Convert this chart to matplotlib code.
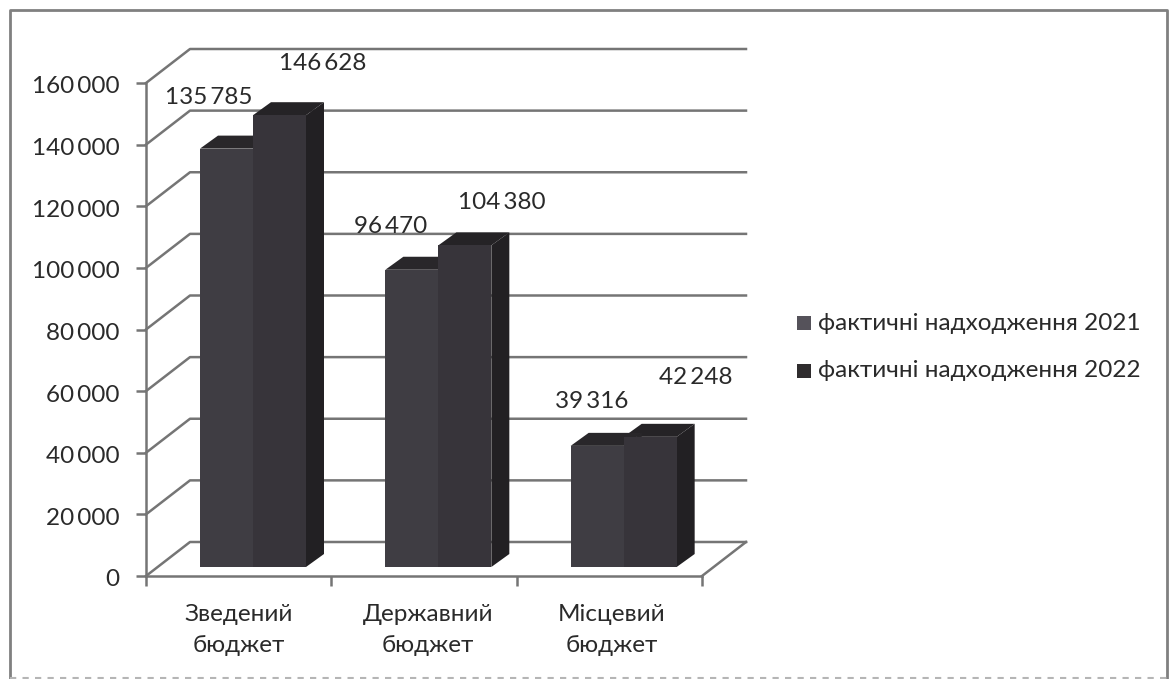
import matplotlib
matplotlib.use("Agg")
import matplotlib.pyplot as plt
from matplotlib.patches import Polygon, Rectangle
from matplotlib.transforms import ScaledTranslation

categories = ["Зведений\nбюджет", "Державний\nбюджет", "Місцевий\nбюджет"]
series_names = ["фактичні надходження 2021", "фактичні надходження 2022"]
values_2021 = [135785, 96470, 39316]
values_2022 = [146628, 104380, 42248]
value_ticks = [0, 20000, 40000, 60000, 80000, 100000, 120000, 140000, 160000]

W, H = 1172, 679
plt.rcParams['font.family'] = ['Lato', 'DejaVu Sans']
TXT = "#2a2a2a"
FS = 17.5


def fmt(v):
    return f"{v:,}".replace(",", "\u2009")


fig = plt.figure(figsize=(W / 100, H / 100), dpi=100, facecolor="white")
# рамка вокруг всей диаграммы
border = "#808080"
fig.add_artist(plt.Line2D([10 / W, 10 / W, 1167 / W, 1167 / W],
                          [0, 1 - 10 / H, 1 - 10 / H, 0], color=border, lw=2, transform=fig.transFigure))
fig.add_artist(plt.Line2D([10 / W, 1167 / W], [1 - 678 / H, 1 - 678 / H], color="#b5b5b5", lw=1.5,
                          ls=(0, (3, 3)), transform=fig.transFigure))

left, right, top, bottom = 146, 702, 83, 576
ax = fig.add_axes([left / W, 1 - bottom / H, (right - left) / W, (bottom - top) / H])
ax.set_xlim(0, 3)
ax.set_ylim(0, 160000)
ax.patch.set_visible(False)

px_x = 3 / (right - left)
px_y = 160000 / (bottom - top)

wall_dx, wall_dy = 44 * px_x, 34 * px_y
grid_col = "#757575"

for v in value_ticks:
    ax.plot([0, wall_dx, 3 + wall_dx], [v, v + wall_dy, v + wall_dy], color=grid_col, lw=1.8,
            clip_on=False, zorder=1)
ax.plot([3, 3 + wall_dx], [0, wall_dy], color=grid_col, lw=1.8, clip_on=False, zorder=1)

# смещение и размеры столбиков
base_dx, base_dy = 12 * px_x, 9 * px_y
depth_dx, depth_dy = 18 * px_x, 13 * px_y
gap = 42 * px_x
bar_w = 53 * px_x


def draw_bar(x0, val, col_front, col_top, col_side):
    xb, yb = x0 + base_dx, base_dy
    ax.add_patch(Rectangle((xb, yb), bar_w, val, fc=col_front, ec="none", clip_on=False, zorder=3))
    ax.add_patch(Polygon([(xb, yb + val), (xb + bar_w, yb + val),
                          (xb + bar_w + depth_dx, yb + val + depth_dy), (xb + depth_dx, yb + val + depth_dy)],
                         fc=col_top, ec="none", clip_on=False, zorder=2.5))
    ax.add_patch(Polygon([(xb + bar_w, yb), (xb + bar_w + depth_dx, yb + depth_dy),
                          (xb + bar_w + depth_dx, yb + val + depth_dy), (xb + bar_w, yb + val)],
                         fc=col_side, ec="none", clip_on=False, zorder=2.5))


for i in range(3):
    x0 = i + gap
    draw_bar(x0 + bar_w, values_2022[i], "#37343a", "#252326", "#222023")
    draw_bar(x0, values_2021[i], "#3f3d43", "#29272a", "#29272a")

label_2021 = [(209, 96), (391, 225), (592, 399)]
label_2022 = [(323, 61), (502, 200), (696, 376)]
for i in range(3):
    fig.text(label_2021[i][0] / W, 1 - label_2021[i][1] / H, fmt(values_2021[i]),
             ha="center", va="center_baseline", fontsize=FS, color=TXT)
    fig.text(label_2022[i][0] / W, 1 - label_2022[i][1] / H, fmt(values_2022[i]),
             ha="center", va="center_baseline", fontsize=FS, color=TXT)

for s in ["top", "right"]:
    ax.spines[s].set_visible(False)
for s in ["left", "bottom"]:
    ax.spines[s].set_color(grid_col)
    ax.spines[s].set_linewidth(1.8)
ax.set_yticks(value_ticks)
ax.set_yticklabels([fmt(v) for v in value_ticks], fontsize=FS, color=TXT)
ax.set_xticks([0, 1, 2, 3])
ax.set_xticklabels([])
ax.tick_params(axis="both", color=grid_col, width=1.8, length=7, pad=12)

# подписи чуть ниже засечек
shift = ScaledTranslation(0, -2 / 100, fig.dpi_scale_trans)
for lab in ax.get_yticklabels():
    lab.set_transform(lab.get_transform() + shift)

label_x = [239, 428, 612]
for i, c in enumerate(categories):
    fig.text(label_x[i] / W, 1 - 630 / H, c, ha="center", va="center", fontsize=FS, color=TXT,
             linespacing=1.62)

# легенда
for y_px, name, col in [(323, series_names[0], "#55525a"), (371, series_names[1], "#2f2c2e")]:
    fig.add_artist(Rectangle((797 / W, 1 - (y_px + 7) / H), 14 / W, 14 / H, transform=fig.transFigure,
                             fc=col, ec="none"))
    fig.text(818 / W, 1 - y_px / H, name, ha="left", va="center", fontsize=FS, color=TXT)

fig.savefig("out.png", dpi=100)
